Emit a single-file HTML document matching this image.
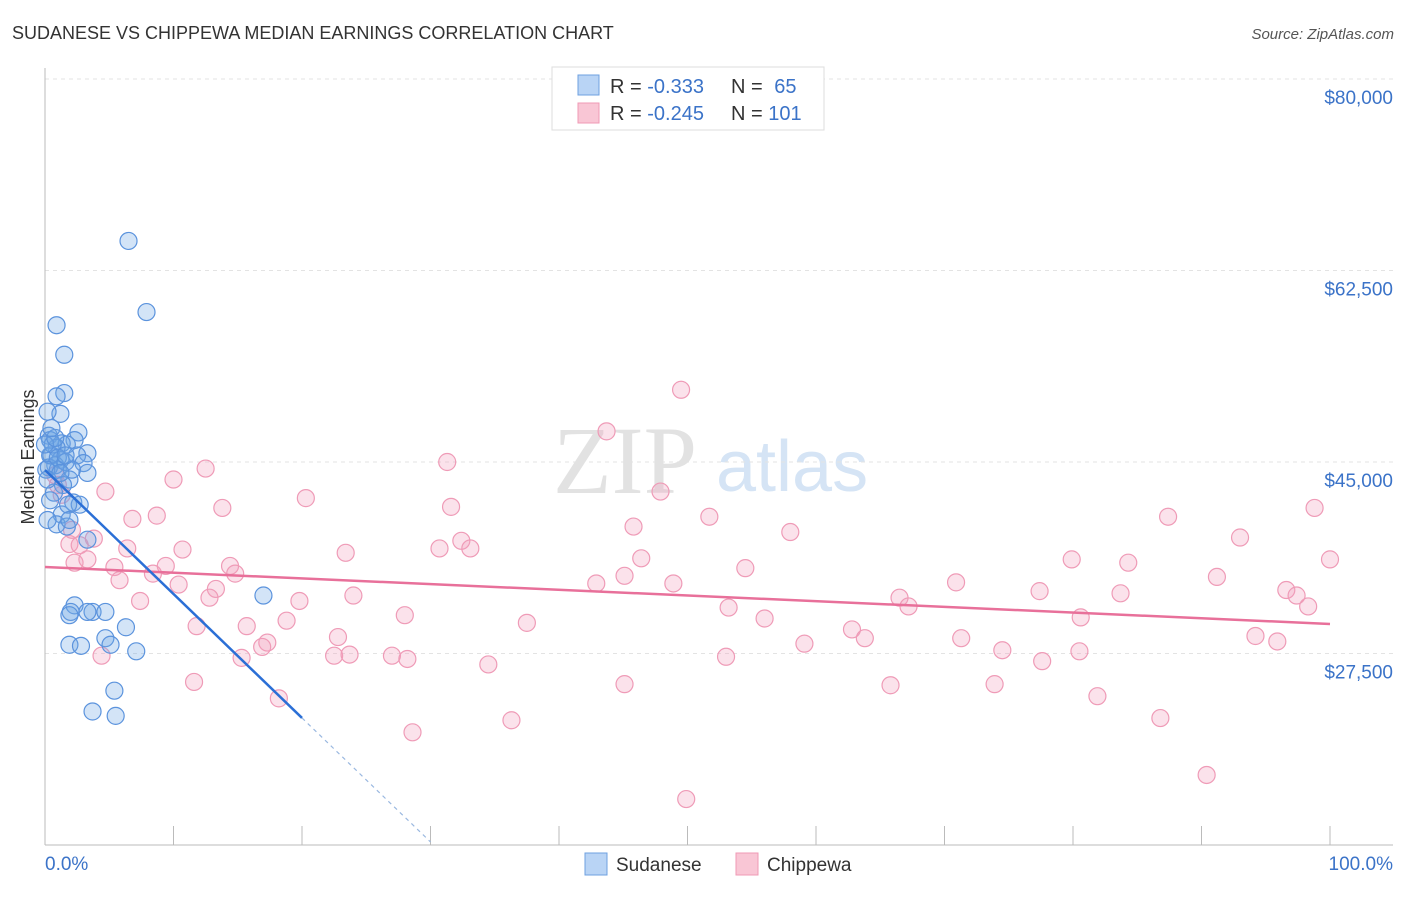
<!DOCTYPE html>
<html><head><meta charset="utf-8"><style>
body{margin:0;background:#fff;font-family:"Liberation Sans",sans-serif;}
svg text{font-family:"Liberation Sans",sans-serif;}
</style></head><body>
<svg id="chart" width="1406" height="892" viewBox="0 0 1406 892" xmlns="http://www.w3.org/2000/svg">
<text x="12" y="39" font-size="18" fill="#333">SUDANESE VS CHIPPEWA MEDIAN EARNINGS CORRELATION CHART</text>
<text x="1394" y="39" font-size="15" fill="#555" font-style="italic" text-anchor="end">Source: ZipAtlas.com</text>
<g>
<text x="553" y="493" font-size="96" fill="#e2e2e2" font-family="Liberation Serif" style="font-family:'Liberation Serif',serif">ZIP</text>
<text x="716" y="491" font-size="72" fill="#d5e4f5">atlas</text>
</g>
<g id="grid"></g>
<g id="axes"></g>
<g id="pts"></g>
<g id="trends"></g>
<text transform="translate(34,457) rotate(-90)" font-size="18" fill="#333" text-anchor="middle">Median Earnings</text>
<g>
<rect x="552" y="67" width="272" height="63" fill="#fff" stroke="#ddd"/>
<rect x="578" y="75" width="21" height="20" fill="#b9d4f5" stroke="#6ea0e0"/>
<rect x="578" y="103" width="21" height="20" fill="#f9c6d5" stroke="#f09ab5"/>
<text x="610" y="93" font-size="20" fill="#333">R = <tspan fill="#3b73c8">-0.333</tspan></text>
<text x="731" y="93" font-size="20" fill="#333">N = <tspan fill="#3b73c8" dx="6">65</tspan></text>
<text x="610" y="120" font-size="20" fill="#333">R = <tspan fill="#3b73c8">-0.245</tspan></text>
<text x="731" y="120" font-size="20" fill="#333">N = <tspan fill="#3b73c8">101</tspan></text>
</g>
<g>
<rect x="585" y="853" width="22" height="22" fill="#b9d4f5" stroke="#6ea0e0"/>
<text x="616" y="871" font-size="19" fill="#333">Sudanese</text>
<rect x="736" y="853" width="22" height="22" fill="#f9c6d5" stroke="#f09ab5"/>
<text x="767" y="871" font-size="19" fill="#333">Chippewa</text>
</g>
</svg>
<script>
const yTicks=[80000,62500,45000,27500];
const yTickLabels=["$80,000","$62,500","$45,000","$27,500"];
const xTickLabels=["0.0%","100.0%"];
const sudX=[6.5,7.9,0.9,1.5,1.5,0.9,1.2,0.2,2.6,0.3,0.4,2.3,1.3,1.7,3.3,0.9,0.5,2.5,1.2,3.0,0.8,0.3,1.0,3.3,1.9,1.4,0.7,2.2,2.7,1.3,0.9,1.7,3.3,0.2,2.3,2.0,1.9,3.7,4.7,3.3,6.3,4.7,5.1,1.9,2.8,7.1,17.0,5.4,3.7,5.5,0.4,0.1,0.6,1.0,1.6,0.0,0.4,2.1,1.6,0.2,0.8,1.2,1.8,0.5,1.9];
const sudY=[65.2,58.7,57.5,54.8,51.3,51.0,49.4,49.6,47.7,47.4,47.0,47.0,46.7,46.6,45.8,46.3,45.6,45.6,45.2,44.9,44.7,44.5,44.3,44.0,43.4,42.9,42.2,41.3,41.1,40.2,39.3,39.1,37.9,39.7,31.9,31.3,31.0,31.3,31.3,31.3,29.9,28.9,28.3,28.3,28.2,27.7,32.8,24.1,22.2,21.8,45.6,44.3,46.6,45.4,45.0,46.6,41.5,44.3,45.6,43.4,47.2,44.0,41.1,48.1,39.7];
const chiX=[49.5,43.7,31.3,12.5,10.0,4.7,20.3,47.9,13.8,31.6,6.8,8.7,51.7,87.4,98.8,45.8,58.0,93.0,1.9,3.8,6.4,10.7,23.4,30.7,32.4,33.1,46.4,79.9,84.3,100.0,2.3,3.3,5.4,9.4,14.4,14.8,8.4,54.5,91.2,45.1,5.8,10.4,13.3,42.9,48.9,70.9,77.4,83.7,96.6,97.4,24.0,7.4,12.8,19.8,66.5,67.2,53.2,98.3,28.0,56.0,80.6,11.8,15.7,18.8,37.5,62.8,63.8,22.8,71.3,94.2,95.9,17.3,16.9,59.1,74.5,80.5,4.4,15.3,22.5,23.7,27.0,28.2,34.5,53.0,77.6,11.6,45.1,65.8,73.9,18.2,81.9,36.3,86.8,28.6,90.4,49.9,0.8,1.3,2.1,2.7,1.0];
const chiY=[51.6,47.8,45.0,44.4,43.4,42.3,41.7,42.3,40.8,40.9,39.8,40.1,40.0,40.0,40.8,39.1,38.6,38.1,37.5,38.0,37.1,37.0,36.7,37.1,37.8,37.1,36.2,36.1,35.8,36.1,35.8,36.1,35.4,35.5,35.5,34.8,34.8,35.3,34.5,34.6,34.2,33.8,33.4,33.9,33.9,34.0,33.2,33.0,33.3,32.8,32.8,32.3,32.6,32.3,32.6,31.8,31.7,31.8,31.0,30.7,30.8,30.0,30.0,30.5,30.3,29.7,28.9,29.0,28.9,29.1,28.6,28.5,28.1,28.4,27.8,27.7,27.3,27.1,27.3,27.4,27.3,27.0,26.5,27.2,26.8,24.9,24.7,24.6,24.7,23.4,23.6,21.4,21.6,20.3,16.4,14.2,43.8,42.0,38.8,37.4,42.9];
const sudTrend=[44.27,-1.133];
const chiTrend=[35.4,-0.052];
const NS="http://www.w3.org/2000/svg";
const X0=45,X1=1330,YTOP=79,YB=845;
const xS=p=>X0+(X1-X0)*p/100;
const yS=k=>YTOP+(80-k)*191.5/17.5;
function mk(t,a,p){const e=document.createElementNS(NS,t);for(const k in a)e.setAttribute(k,a[k]);p.appendChild(e);return e;}
const grid=document.getElementById('grid'),axes=document.getElementById('axes'),pts=document.getElementById('pts'),tr=document.getElementById('trends');
yTicks.forEach((v,i)=>{const y=yS(v/1000);
const l=mk('line',{x1:X0,x2:1393,y1:y,y2:y,stroke:'#e3e3e3','stroke-dasharray':'4,4'},grid);


const t=mk('text',{x:1393,y:y+25,'font-size':19,fill:'#3b73c8','text-anchor':'end'},grid);t.textContent=yTickLabels[i];


});
mk('line',{x1:X0,x2:X0,y1:68,y2:YB,stroke:'#bbb'},axes);
mk('line',{x1:X0,x2:1393,y1:YB,y2:YB,stroke:'#bbb'},axes);
for(let i=0;i<=10;i++){const x=xS(i*10);const t=mk('line',{x1:x,x2:x,y1:826,y2:YB,stroke:'#bbb'},axes);

}
const xl0=mk('text',{x:45,y:870,'font-size':19,fill:'#3b73c8'},axes);xl0.textContent=xTickLabels[0];


const xl1=mk('text',{x:1393,y:870,'font-size':19,fill:'#3b73c8','text-anchor':'end'},axes);xl1.textContent=xTickLabels[1];


chiX.forEach((x,i)=>{const c=mk('circle',{cx:xS(x),cy:yS(chiY[i]),r:8.5,fill:'rgba(243,160,188,0.3)',stroke:'#ef9bb7','stroke-width':1.2},pts);

});
sudX.forEach((x,i)=>{const c=mk('circle',{cx:xS(x),cy:yS(sudY[i]),r:8.5,fill:'rgba(110,165,230,0.3)',stroke:'#5b93dd','stroke-width':1.2},pts);

});
const st=p=>sudTrend[0]+sudTrend[1]*p, ct=p=>chiTrend[0]+chiTrend[1]*p;
const pl=mk('line',{x1:xS(0),y1:yS(ct(0)),x2:xS(100),y2:yS(ct(100)),stroke:'#e8709a','stroke-width':2.5},tr);


const bl=mk('line',{x1:xS(0),y1:yS(st(0)),x2:xS(20),y2:yS(st(20)),stroke:'#2b6fd6','stroke-width':2.5},tr);


const bd=mk('line',{x1:xS(20),y1:yS(st(20)),x2:xS(30),y2:yS(st(30)),stroke:'#9ab8e0','stroke-width':1.2,'stroke-dasharray':'4,4'},tr);


</script>
</body></html>
